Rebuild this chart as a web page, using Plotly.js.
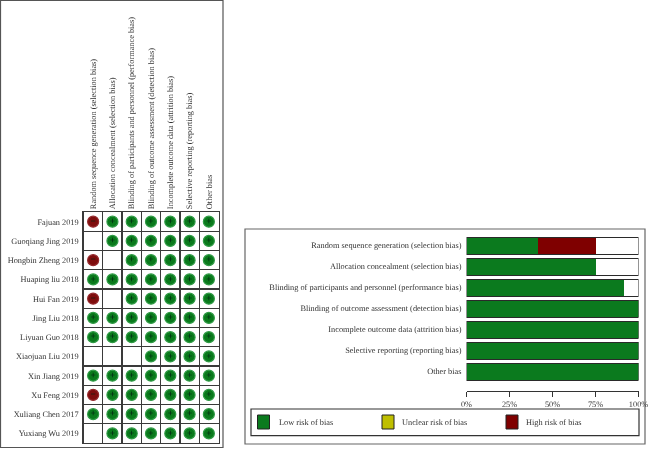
<!DOCTYPE html>
<html><head><meta charset="utf-8">
<script src="https://cdn.plot.ly/plotly-3.0.1.min.js"></script>
<style>html,body{margin:0;padding:0;background:#fff} svg text{text-rendering:geometricPrecision} #chart{filter:blur(.35px)}</style></head>
<body><div id="chart" style="width:648px;height:450px"></div>
<script>
const domains = ["Random sequence generation (selection bias)","Allocation concealment (selection bias)","Blinding of participants and personnel (performance bias)","Blinding of outcome assessment (detection bias)","Incomplete outcome data (attrition bias)","Selective reporting (reporting bias)","Other bias"];
const studies = ["Fajuan 2019","Guoqiang Jing 2019","Hongbin Zheng 2019","Huaping liu 2018","Hui Fan 2019","Jing Liu 2018","Liyuan Guo 2018","Xiaojuan Liu 2019","Xin Jiang 2019","Xu Feng 2019","Xuliang Chen 2017","Yuxiang Wu 2019"];
// one string per study, one letter per domain: L low, H high, . not assessed
const judgements = ["HLLLLLL",".LLLLLL","H.LLLLL","LLLLLLL","H.LLLLL","LLLLLLL","LLLLLLL","...LLLL","LLLLLLL","HLLLLLL","LLLLLLL",".LLLLLL"];
const lowPct = [41.67,75,91.67,100,100,100,100];
const unclearPct = [0,0,0,0,0,0,0];
const highPct = [33.33,0,0,0,0,0,0];
const blankPct = [25,25,8.33,0,0,0,0];
const fullPct = [100,100,100,100,100,100,100];
const legendNames = ["Low risk of bias","Unclear risk of bias","High risk of bias"];
const legendColors = ["#0b7a1e","#bfbf00","#7f0000"];
const tickVals = [0,25,50,75,100];
const tickText = ["0%","25%","50%","75%","100%"];

const W=648,H=450,FONT="Liberation Serif",TXT="#333",FS=8.3;
const px=x=>x/W, py=y=>1-y/H;
const xs=[],ys=[],risk=[];
judgements.forEach((row,i)=>[...row].forEach((c,j)=>{ if(c!=="."){xs.push(domains[j]);ys.push(studies[i]);risk.push(c);} }));
const pick=c=>{const a=[],b=[];risk.forEach((r,k)=>{if(r===c){a.push(xs[k]);b.push(ys[k]);}});return [a,b];};
const dots=(c,col,rim,sym)=>{const [a,b]=pick(c);return {type:"scatter",mode:"markers+text",x:a,y:b,xaxis:"x",yaxis:"y",
  marker:{size:11,color:col,line:{color:rim,width:1.2}},text:a.map(()=>sym),textposition:"middle center",
  textfont:{family:"Liberation Sans",size:9,color:"#021"},hoverinfo:"skip",showlegend:false,cliponaxis:false};};
const bar=(vals,col,name)=>({type:"bar",orientation:"h",x:vals,y:domains,xaxis:"x2",yaxis:"y2",name,width:0.81,
  marker:{color:col,line:{width:0}},showlegend:false});
const traces=[dots("L","#0a7a1c","#2f9a45","+"),dots("H","#7f0d0d","#94282c","−"),
  bar(lowPct,legendColors[0],legendNames[0]),bar(unclearPct,legendColors[1],legendNames[1]),bar(highPct,legendColors[2],legendNames[2]),bar(blankPct,"#ffffff","Blank"),
  {type:"bar",orientation:"h",x:fullPct,y:domains,xaxis:"x3",yaxis:"y3",width:0.81,marker:{color:"rgba(0,0,0,0)",line:{color:"#2a2a2a",width:1}},showlegend:false,hoverinfo:"skip"}];
const box=(x0,y0,x1,y1,line,width,fill)=>({type:"rect",xref:"paper",yref:"paper",x0:px(x0),x1:px(x1),y0:py(y0),y1:py(y1),line:{color:line,width},fillcolor:fill||"rgba(0,0,0,0)",layer:"below"});
const shapes=[box(0.5,0.5,223,447.5,"#555",1.2),box(245,229,645,444,"#666",1.2),box(251,409,639,435.7,"#333",1.2)];
const swatchX=[257.5,382,506], textX=[276.5,400,524];
const annotations=legendNames.map((t,i)=>({xref:"paper",yref:"paper",x:px(textX[i]),y:py(422),xanchor:"left",yanchor:"middle",showarrow:false,text:t,font:{family:FONT,size:FS,color:TXT}}));
legendColors.forEach((c,i)=>shapes.push(box(swatchX[i],415,swatchX[i]+12,429,"#222",1,c)));
const hidden={domain:[0,1],showgrid:false,zeroline:false,showticklabels:false,ticks:""};
const layout={width:W,height:H,margin:{l:0,r:0,t:0,b:0},paper_bgcolor:"#fff",plot_bgcolor:"rgba(0,0,0,0)",barmode:"stack",showlegend:false,
  font:{family:FONT,size:FS,color:TXT},shapes,annotations,
  xaxis:{domain:[px(83.5),px(218.5)],type:"category",categoryorder:"array",categoryarray:domains,range:[-0.5,6.5],side:"top",anchor:"y",tickangle:-90,tickson:"boundaries",ticks:"",showgrid:true,gridcolor:"#3a3a3a",gridwidth:1.2,showline:true,mirror:true,linecolor:"#3a3a3a",linewidth:1.2,zeroline:false,tickfont:{family:FONT,size:FS,color:TXT}},
  yaxis:{domain:[py(443),py(212)],type:"category",categoryorder:"array",categoryarray:studies,range:[11.5,-0.5],anchor:"x",tickson:"boundaries",ticks:"",showgrid:true,gridcolor:"#3a3a3a",gridwidth:1.2,showline:true,mirror:true,linecolor:"#3a3a3a",linewidth:1.2,zeroline:false,ticklabelstandoff:2,tickfont:{family:FONT,size:FS,color:TXT}},
  xaxis2:{domain:[px(466.5),px(638.5)],range:[0,100],anchor:"y2",tickmode:"array",tickvals:tickVals,ticktext:tickText,ticks:"outside",ticklen:5,tickwidth:1,tickcolor:"#333",ticklabeloverflow:"allow",showline:true,linecolor:"#333",linewidth:1,showgrid:false,zeroline:false,tickfont:{family:FONT,size:FS,color:TXT}},
  yaxis2:{domain:[py(390.7),py(235)],type:"category",categoryorder:"array",categoryarray:domains,range:[6.914,-0.5],anchor:"x2",showgrid:false,zeroline:false,showline:false,ticks:"",ticklabelstandoff:4,tickfont:{family:FONT,size:FS,color:TXT}},
  xaxis3:Object.assign({},hidden,{range:[0,100],anchor:"y3",overlaying:"x2"}),
  yaxis3:Object.assign({},hidden,{type:"category",categoryorder:"array",categoryarray:domains,range:[6.914,-0.5],anchor:"x3",overlaying:"y2"})
};
Plotly.newPlot("chart",traces,layout,{displayModeBar:false,staticPlot:true});
</script></body></html>
